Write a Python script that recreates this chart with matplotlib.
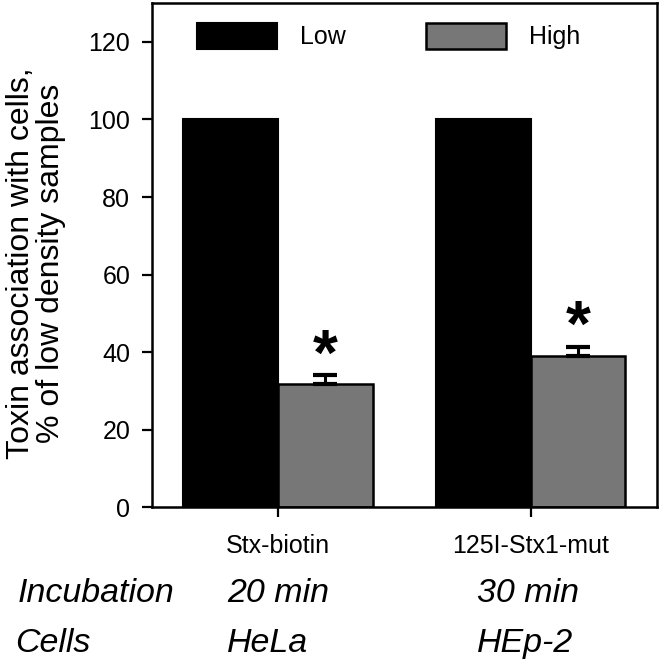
import matplotlib
matplotlib.use("Agg")
import matplotlib.pyplot as plt
import numpy as np

plt.rcParams['font.family'] = ['Liberation Sans', 'DejaVu Sans']

# ---- data ----
conditions = ["Stx-biotin", "125I-Stx1-mut"]
incubation = ["20 min", "30 min"]
cells = ["HeLa", "HEp-2"]
series_names = ["Low", "High"]
low_values = [100.0, 100.0]
high_values = [31.8, 39.0]
high_errors = [2.2, 2.4]
significant = [True, True]
y_ticks = [0, 20, 40, 60, 80, 100, 120]

fig = plt.figure(figsize=(6.61, 6.63), dpi=100)
ax = fig.add_axes([0.2295, 0.2348, 0.7645, 0.7606])

x = np.arange(len(conditions))
w = 0.375
b_low = ax.bar(x - w / 2, low_values, w, color='black', edgecolor='black',
               linewidth=1.5, label=series_names[0], zorder=2)
b_high = ax.bar(x + w / 2, high_values, w, color='#777777', edgecolor='black',
                linewidth=1.8, label=series_names[1], zorder=2)
ax.errorbar(x + w / 2, high_values, yerr=[np.zeros(len(high_errors)), high_errors],
            fmt='none', ecolor='black', elinewidth=2.2, capsize=8.6, capthick=3, zorder=3)
for xi, v, e, s in zip(x, high_values, high_errors, significant):
    if s:
        ax.text(xi + w / 2, v + e + 4.5, '*', ha='center', va='center',
                fontsize=46, fontweight='bold')

ax.set_xlim(-0.5, 1.5)
ax.set_ylim(0, 130)
ax.set_yticks(y_ticks)
ax.set_yticklabels([str(t) for t in y_ticks], fontsize=18)
ax.set_xticks(x)
ax.set_xticklabels(conditions, fontsize=18)
ax.tick_params(axis='both', direction='out', length=7.5, width=1.6)
ax.tick_params(axis='x', pad=12)
ax.tick_params(axis='y', pad=8)
for sp in ax.spines.values():
    sp.set_linewidth(1.8)

ax.set_ylabel("Toxin association with cells,\n% of low density samples",
              fontsize=23, linespacing=1.0)
ax.yaxis.set_label_coords(-0.17, 0.484)

ax.legend(ncol=2, loc='upper left', bbox_to_anchor=(0.0896, 0.961),
          frameon=False, fontsize=18, handlelength=3.2, handleheight=1.25,
          handletextpad=0.92, columnspacing=3.2, borderpad=0, borderaxespad=0)

# annotation rows under the axis
row_y = [0.092, 0.0166]
fig.text(0.026, row_y[0], "Incubation", fontsize=24.5, style='italic', va='baseline')
fig.text(0.023, row_y[1], "Cells", fontsize=24.5, style='italic', va='baseline')
row_x = [0.344, 0.722]
for rx, inc, c in zip(row_x, incubation, cells):
    fig.text(rx, row_y[0], inc, fontsize=24.5, style='italic', va='baseline')
    fig.text(rx, row_y[1], c, fontsize=24.5, style='italic', va='baseline')

fig.savefig("out.png", dpi=100)
